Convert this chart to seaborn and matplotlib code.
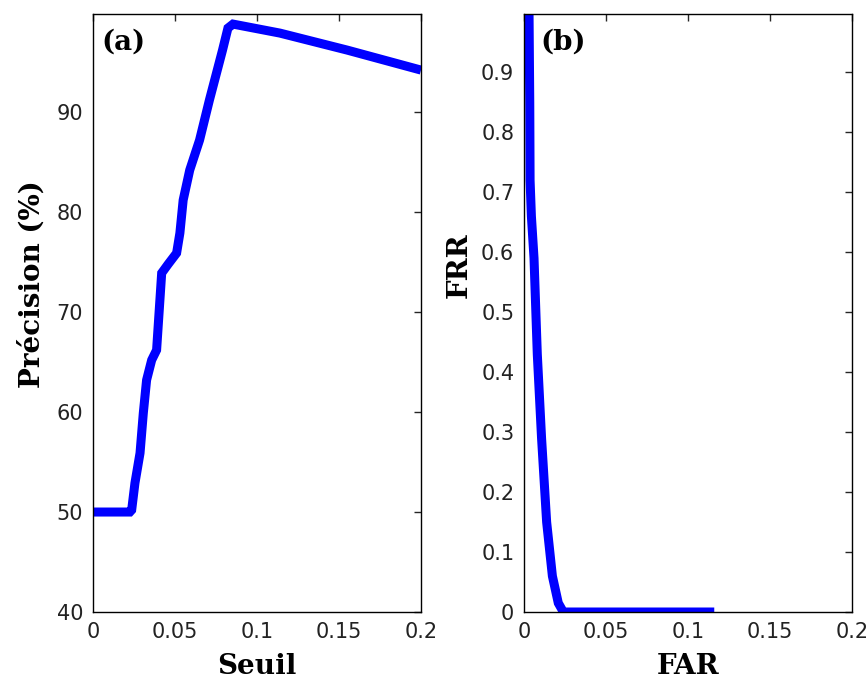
import numpy as np
import pandas as pd
import matplotlib
matplotlib.use("Agg")
import matplotlib.pyplot as plt
import seaborn as sns

# (a) precision vs threshold
seuil = [0, 0.0225, 0.0236, 0.0256, 0.0287, 0.0307, 0.0327, 0.0358, 0.0388,
         0.0419, 0.0459, 0.051, 0.053, 0.055, 0.059, 0.065, 0.071, 0.079,
         0.0823, 0.0854, 0.114, 0.155, 0.2]
precision = [50, 50, 50.2, 52.9, 55.9, 59.9, 63.2, 65.2, 66.2,
             73.9, 74.8, 75.9, 77.9, 81.2, 84.2, 87.2, 91.2, 96.2,
             98.4, 98.8, 97.9, 96.2, 94.2]

# (b) FRR vs FAR
far = [0.003, 0.0035, 0.0037, 0.0045, 0.0061, 0.0081, 0.0107, 0.0138,
       0.0173, 0.0209, 0.024, 0.116]
frr = [1.02, 0.85, 0.72, 0.66, 0.59, 0.43, 0.29, 0.15,
       0.06, 0.015, 0.0, 0.0]

df_a = pd.DataFrame({"Seuil": seuil, "Precision": precision})
df_b = pd.DataFrame({"FAR": far, "FRR": frr})

sns.set_style("white")
plt.rcParams["font.family"] = ["DejaVu Sans"]

fig = plt.figure(figsize=(8.68, 6.81), dpi=100)
ax1 = fig.add_axes([0.1071, 0.1013, 0.3779, 0.878])
ax2 = fig.add_axes([0.6037, 0.1013, 0.3779, 0.878])

lw = 6.5
sns.lineplot(data=df_a, x="Seuil", y="Precision", ax=ax1, color="#0000ff",
             linewidth=lw, estimator=None, sort=False)
sns.lineplot(data=df_b, x="FAR", y="FRR", ax=ax2, color="#0000ff",
             linewidth=lw, estimator=None, sort=False)
for ax in (ax1, ax2):
    for line in ax.lines:
        line.set_solid_capstyle("butt")
        line.set_solid_joinstyle("miter")

lab = dict(family="DejaVu Serif", fontweight="bold", fontsize=20, color="black")

ax1.set_xlim(0, 0.2)
ax1.set_ylim(40, 99.8)
ax1.set_xticks([0, 0.05, 0.1, 0.15, 0.2])
ax1.set_xticklabels(["0", "0.05", "0.1", "0.15", "0.2"])
ax1.set_yticks([40, 50, 60, 70, 80, 90])
ax1.set_xlabel("Seuil", labelpad=8, **lab)
ax1.set_ylabel("Précision (%)", **lab)
ax1.yaxis.set_label_coords(-0.145, 0.548)
ax1.text(0.025, 0.975, "(a)", transform=ax1.transAxes, va="top", ha="left", **lab)

ax2.set_xlim(0, 0.2)
ax2.set_ylim(0, 0.997)
ax2.set_xticks([0, 0.05, 0.1, 0.15, 0.2])
ax2.set_xticklabels(["0", "0.05", "0.1", "0.15", "0.2"])
ax2.set_yticks([0, 0.1, 0.2, 0.3, 0.4, 0.5, 0.6, 0.7, 0.8, 0.9])
ax2.set_yticklabels(["0", "0.1", "0.2", "0.3", "0.4", "0.5", "0.6", "0.7", "0.8", "0.9"])
ax2.set_xlabel("FAR", labelpad=8, **lab)
ax2.set_ylabel("FRR", **lab)
ax2.yaxis.set_label_coords(-0.155, 0.58)
ax2.text(0.05, 0.975, "(b)", transform=ax2.transAxes, va="top", ha="left", **lab)

for ax in (ax1, ax2):
    ax.tick_params(direction="in", length=5, width=1, top=True, right=True,
                   labelsize=15, labelcolor="#222222", pad=7)
    for s in ax.spines.values():
        s.set_visible(True)
        s.set_color("black")
        s.set_linewidth(1)

fig.savefig("out.png", dpi=100)
